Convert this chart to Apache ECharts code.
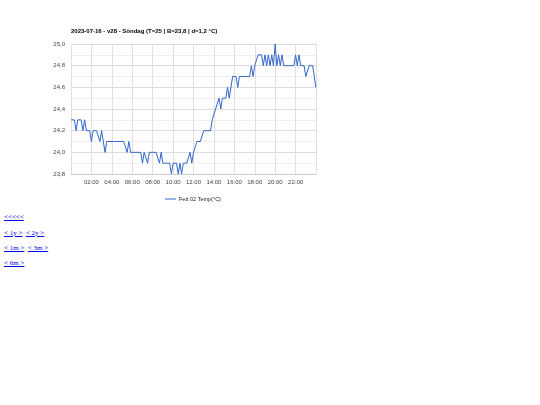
<!DOCTYPE html>
<html>
<head>
<meta charset="utf-8">
<script src="https://cdn.jsdelivr.net/npm/echarts@6/dist/echarts.min.js"></script>
<style>
html,body{margin:0;padding:0;background:#fff;width:540px;height:405px;overflow:hidden;}
#chart{position:absolute;left:0;top:0;width:540px;height:210px;}
.lnk{position:absolute;left:4px;font-family:"Liberation Serif","DejaVu Serif",serif;font-size:7px;color:#0000ee;white-space:pre;}
.lnk a{color:#0000ee;text-decoration:underline;}
</style>
</head>
<body>
<div id="chart"></div>
<div class="lnk" style="top:213px;"><a>&lt;&lt;&lt;&lt;&lt;</a></div>
<div class="lnk" style="top:229px;"><a>&lt; 1y &gt;</a>&nbsp;&nbsp;<a>&lt; 2y &gt;</a></div>
<div class="lnk" style="top:244px;"><a>&lt; 1m &gt;</a>&nbsp;&nbsp;<a>&lt; 3m &gt;</a></div>
<div class="lnk" style="top:259px;"><a>&lt; 6m &gt;</a></div>
<script>
const title = "2023-07-16 - v28 - Söndag (T=25 | B=23,8 | d=1,2 °C)";
const seriesName = "Fett 02 Temp(°C)";
const xTickLabels = ["02:00","04:00","06:00","08:00","10:00","12:00","14:00","16:00","18:00","20:00","22:00"];
const yTickLabels = ["23,8","24,0","24,2","24,4","24,6","24,8","25,0"];
// sample times in minutes after midnight (every 10 min, last reading at 23:59)
const times = [];
for (let m = 0; m < 1440; m += 10) times.push(m);
times.push(1439);
const temps = [
24.3,24.3,24.3,24.2,24.3,24.3,24.3,24.2,24.3,24.2,
24.2,24.2,24.1,24.2,24.2,24.2,24.2,24.1,24.2,24.1,
24.0,24.1,24.1,24.1,24.1,24.1,24.1,24.1,24.1,24.1,
24.1,24.1,24.1,24.0,24.1,24.0,24.0,24.0,24.0,24.0,
24.0,24.0,23.9,24.0,24.0,23.9,24.0,24.0,24.0,24.0,
24.0,24.0,23.9,24.0,23.9,23.9,23.9,23.9,23.9,23.8,
23.9,23.9,23.9,23.8,23.9,23.8,23.9,23.9,23.9,23.9,
24.0,23.9,24.0,24.0,24.1,24.1,24.1,24.1,24.2,24.2,
24.2,24.2,24.2,24.3,24.3,24.4,24.4,24.5,24.4,24.5,
24.5,24.5,24.6,24.5,24.6,24.7,24.7,24.7,24.6,24.7,
24.7,24.7,24.7,24.7,24.7,24.7,24.8,24.7,24.8,24.8,
24.9,24.9,24.9,24.8,24.9,24.8,24.9,24.8,24.9,24.8,
25.0,24.8,24.9,24.8,24.9,24.8,24.8,24.8,24.8,24.8,
24.8,24.8,24.9,24.8,24.9,24.8,24.8,24.8,24.7,24.7,
24.8,24.8,24.8,24.7,24.6
];
const data = times.map((m, i) => [m / 60, temps[i]]);

const chart = echarts.init(document.getElementById('chart'), null, {renderer: 'canvas'});
const font = '"Liberation Sans", Arial, sans-serif';
chart.setOption({
  animation: false,
  title: {
    text: title, left: 71, top: 28, padding: 0,
    textStyle: {fontFamily: font, fontSize: 6, fontWeight: 'bold', color: '#000'}
  },
  legend: {
    data: [seriesName], top: 196, left: 165, padding: 0,
    itemWidth: 11, itemHeight: 1, itemGap: 3,
    icon: 'rect',
    itemStyle: {color: '#3366cc'},
    textStyle: {fontFamily: font, fontSize: 5.5, color: '#222', padding: [0,0,0,-2]}
  },
  grid: {left: 71, right: 224, top: 44, bottom: 36, containLabel: false},
  xAxis: {
    type: 'value', min: 0, max: 24, interval: 2,
    axisLine: {show: true, lineStyle: {color: '#ccc', width: 1}},
    axisTick: {show: false},
    splitLine: {show: true, lineStyle: {color: '#e0e0e0', width: 1}},
    axisLabel: {
      fontFamily: font, fontSize: 6, color: '#444', margin: 5,
      formatter: v => { const i = Math.round(v / 2) - 1; return (i >= 0 && i < xTickLabels.length) ? xTickLabels[i] : ''; }
    }
  },
  yAxis: {
    type: 'value', min: 23.8, max: 25.0, interval: 0.2,
    axisLine: {show: false},
    axisTick: {show: false},
    minorTick: {show: false, splitNumber: 2},
    splitLine: {show: true, lineStyle: {color: '#dcdcdc', width: 1}},
    minorSplitLine: {show: true, lineStyle: {color: '#f0f0f0', width: 1}},
    axisLabel: {
      fontFamily: font, fontSize: 6, color: '#444', margin: 6,
      formatter: v => { const i = Math.round((v - 23.8) / 0.2); return yTickLabels[i] || ''; }
    }
  },
  series: [{
    name: seriesName, type: 'line', data: data,
    showSymbol: false, symbol: 'none',
    lineStyle: {color: '#3366cc', width: 1},
    itemStyle: {color: '#3366cc'}
  }]
});
</script>
</body>
</html>
